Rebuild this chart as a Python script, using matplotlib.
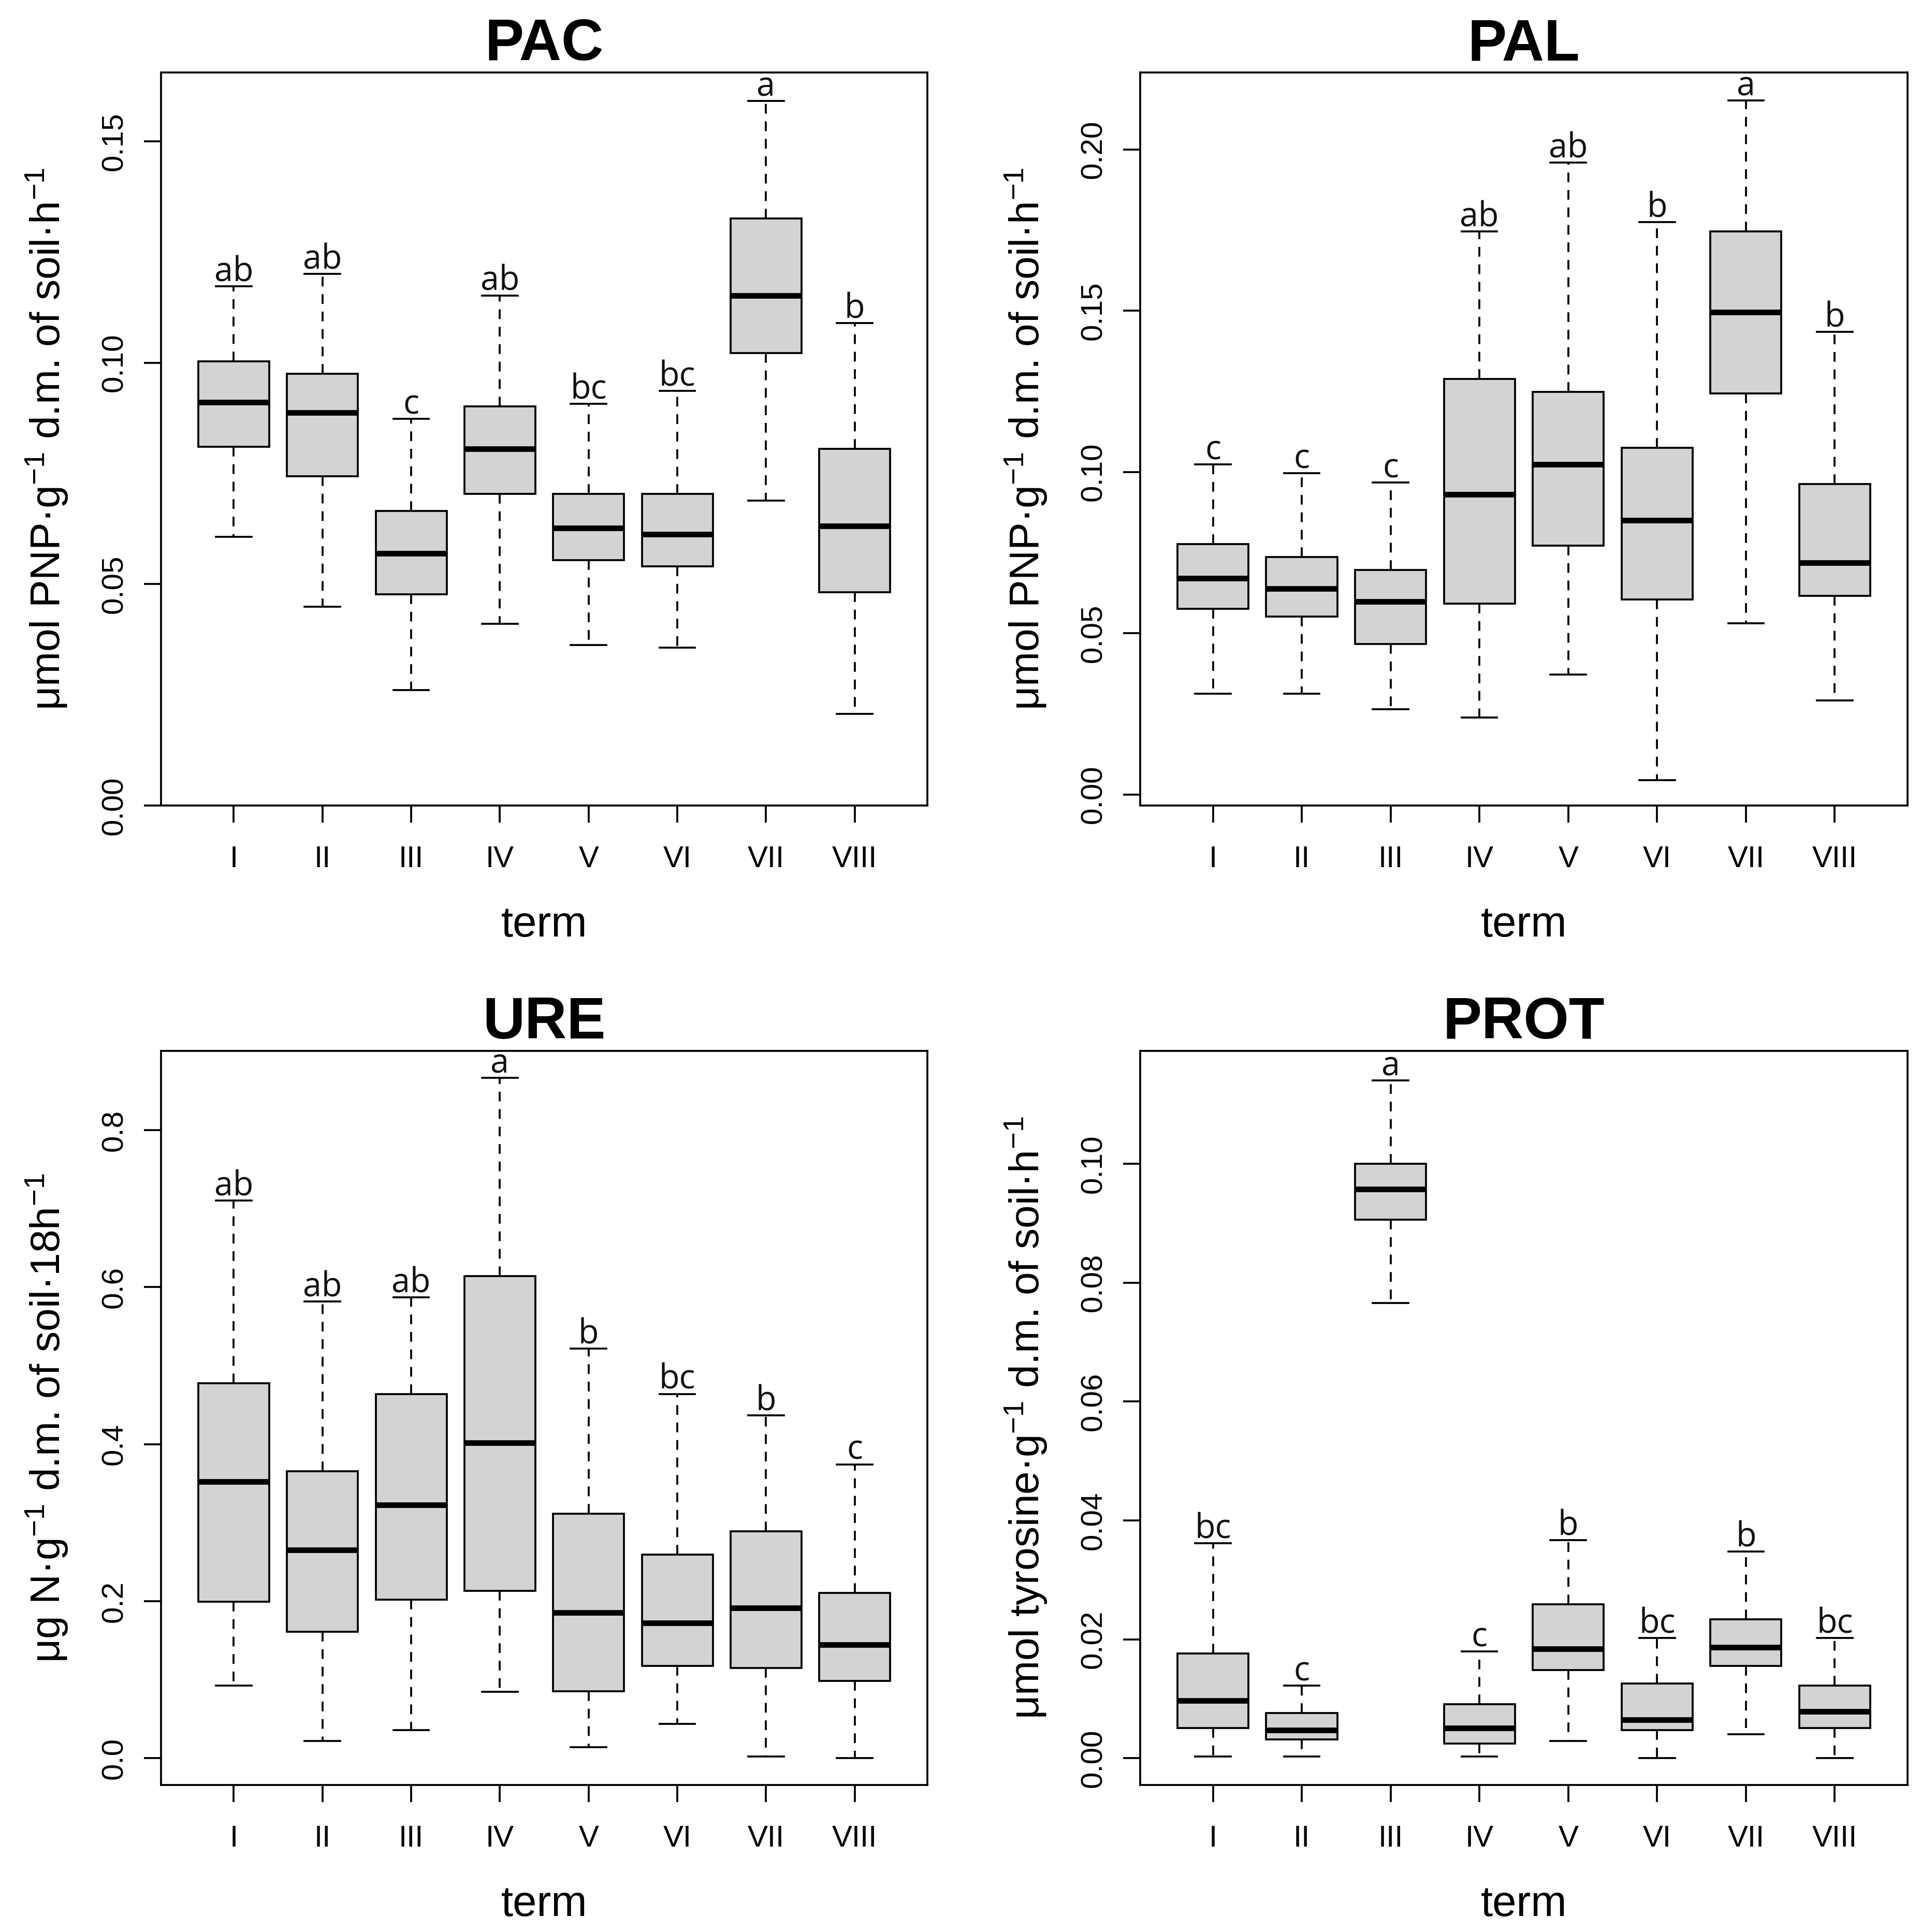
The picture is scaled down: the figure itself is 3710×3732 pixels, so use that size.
import matplotlib
matplotlib.use("Agg")
import matplotlib.pyplot as plt

plt.rcParams["font.family"] = ["Liberation Sans", "DejaVu Sans"]
plt.rcParams["mathtext.fontset"] = "custom"
plt.rcParams["mathtext.rm"] = "Liberation Sans"
plt.rcParams["mathtext.it"] = "Liberation Sans:italic"
plt.rcParams["mathtext.bf"] = "Liberation Sans:bold"

TERMS = ["I", "II", "III", "IV", "V", "VI", "VII", "VIII"]

# box statistics: lower whisker, Q1, median, Q3, upper whisker
pac_lo = [0.0607, 0.0449, 0.0260, 0.0410, 0.0362, 0.0357, 0.0689, 0.0207]
pac_q1 = [0.0810, 0.0743, 0.0477, 0.0704, 0.0554, 0.0540, 0.1022, 0.0482]
pac_med = [0.0911, 0.0887, 0.0569, 0.0805, 0.0627, 0.0612, 0.1152, 0.0631]
pac_q3 = [0.1003, 0.0975, 0.0665, 0.0901, 0.0704, 0.0704, 0.1326, 0.0805]
pac_hi = [0.1172, 0.1200, 0.0873, 0.1152, 0.0907, 0.0936, 0.1591, 0.1089]
pac_let = ["ab", "ab", "c", "ab", "bc", "bc", "a", "b"]

pal_lo = [0.0312, 0.0312, 0.0264, 0.0238, 0.0372, 0.0045, 0.0530, 0.0292]
pal_q1 = [0.0576, 0.0552, 0.0466, 0.0592, 0.0772, 0.0604, 0.1244, 0.0616]
pal_med = [0.0670, 0.0638, 0.0598, 0.0930, 0.1024, 0.0850, 0.1496, 0.0718]
pal_q3 = [0.0776, 0.0736, 0.0696, 0.1288, 0.1248, 0.1075, 0.1746, 0.0962]
pal_hi = [0.1024, 0.0996, 0.0968, 0.1746, 0.1959, 0.1774, 0.2152, 0.1434]
pal_let = ["c", "c", "c", "ab", "ab", "b", "a", "b"]

ure_lo = [0.0928, 0.0221, 0.0360, 0.0846, 0.0139, 0.0436, 0.0025, 0.0000]
ure_q1 = [0.1995, 0.1610, 0.2021, 0.2134, 0.0852, 0.1174, 0.1149, 0.0985]
ure_med = [0.3523, 0.2652, 0.3227, 0.4016, 0.1856, 0.1724, 0.1913, 0.1446]
ure_q3 = [0.4773, 0.3656, 0.4641, 0.6144, 0.3113, 0.2595, 0.2892, 0.2103]
ure_hi = [0.7103, 0.5815, 0.5872, 0.8663, 0.5215, 0.4641, 0.4369, 0.3744]
ure_let = ["ab", "ab", "ab", "a", "b", "bc", "b", "c"]

prot_lo = [0.0003, 0.0003, 0.0766, 0.0003, 0.0029, 0.0000, 0.0040, 0.0000]
prot_q1 = [0.0051, 0.0032, 0.0906, 0.0025, 0.0148, 0.0047, 0.0155, 0.0051]
prot_med = [0.0097, 0.0047, 0.0957, 0.0051, 0.0184, 0.0065, 0.0187, 0.0079]
prot_q3 = [0.0176, 0.0076, 0.1000, 0.0091, 0.0259, 0.0126, 0.0234, 0.0122]
prot_hi = [0.0362, 0.0122, 0.1140, 0.0180, 0.0367, 0.0202, 0.0348, 0.0202]
prot_let = ["bc", "c", "a", "c", "b", "bc", "b", "bc"]

pac_ticks = [0.00, 0.05, 0.10, 0.15]
pal_ticks = [0.00, 0.05, 0.10, 0.15, 0.20]
ure_ticks = [0.0, 0.2, 0.4, 0.6, 0.8]
prot_ticks = [0.00, 0.02, 0.04, 0.06, 0.08, 0.10]

panels = [
    ("PAC", r"μmol PNP·g$^{-1}$ d.m. of soil·h$^{-1}$",
     (pac_lo, pac_q1, pac_med, pac_q3, pac_hi), pac_let, pac_ticks, "%.2f", (0.0, 0.1655)),
    ("PAL", r"μmol PNP·g$^{-1}$ d.m. of soil·h$^{-1}$",
     (pal_lo, pal_q1, pal_med, pal_q3, pal_hi), pal_let, pal_ticks, "%.2f", (-0.0034, 0.2238)),
    ("URE", r"μg N·g$^{-1}$ d.m. of soil·18h$^{-1}$",
     (ure_lo, ure_q1, ure_med, ure_q3, ure_hi), ure_let, ure_ticks, "%.1f", (-0.0340, 0.9010)),
    ("PROT", r"μmol tyrosine·g$^{-1}$ d.m. of soil·h$^{-1}$",
     (prot_lo, prot_q1, prot_med, prot_q3, prot_hi), prot_let, prot_ticks, "%.2f", (-0.0045, 0.1190)),
]

# axes rectangles (figure fractions) matching the 2x2 layout
RECTS = [(0.0838, 0.5831, 0.3990, 0.3793), (0.5935, 0.5831, 0.3995, 0.3793),
         (0.0838, 0.0761, 0.3990, 0.3800), (0.5935, 0.0761, 0.3995, 0.3800)]

LW = 0.9
fig = plt.figure(figsize=(3710 / 300, 3732 / 300), dpi=300)

for (title, ylab, (lo, q1, med, q3, hi), letters, yt, fmt, ylim), rect in zip(panels, RECTS):
    ax = fig.add_axes(rect)
    stats = [dict(whislo=a, q1=b, med=c, q3=d, whishi=e, label=t)
             for a, b, c, d, e, t in zip(lo, q1, med, q3, hi, TERMS)]
    ax.bxp(stats, positions=range(1, 9), widths=0.8, capwidths=0.4,
           showfliers=False, patch_artist=True,
           boxprops=dict(facecolor="#d3d3d3", edgecolor="black", linewidth=LW),
           medianprops=dict(color="black", linewidth=2.6, solid_capstyle="butt"),
           whiskerprops=dict(color="black", linewidth=LW, linestyle=(0, (5, 4))),
           capprops=dict(color="black", linewidth=LW))
    for i, (h, s) in enumerate(zip(hi, letters), start=1):
        ax.annotate(s, (i, h), xytext=(0, 2.3), textcoords="offset points",
                    ha="center", va="baseline", fontsize=15.5,
                    family=["Open Sans", "DejaVu Sans"], color="#111111")
    ax.set_xlim(0.18, 8.82)
    ax.set_ylim(*ylim)
    ax.set_xticks(range(1, 9), TERMS)
    ax.set_yticks(yt, [fmt % v for v in yt], rotation=90, va="center")
    ax.tick_params(axis="x", length=8, width=LW, labelsize=14, pad=10.5)
    ax.tick_params(axis="y", length=8, width=LW, labelsize=14, pad=7)
    for sp in ax.spines.values():
        sp.set_linewidth(LW)
    ax.set_title(title, fontsize=27, fontweight="bold", pad=5.5)
    ax.annotate("term", (0.5, 0), xycoords="axes fraction", xytext=(0, -60.7),
                textcoords="offset points", ha="center", va="baseline", fontsize=20)
    ax.annotate(ylab, (0, 0.5), xycoords="axes fraction", xytext=(-46.8, 0),
                textcoords="offset points", ha="center", va="baseline",
                rotation=90, rotation_mode="anchor", fontsize=19.3)

fig.savefig("out.png", dpi=300)
